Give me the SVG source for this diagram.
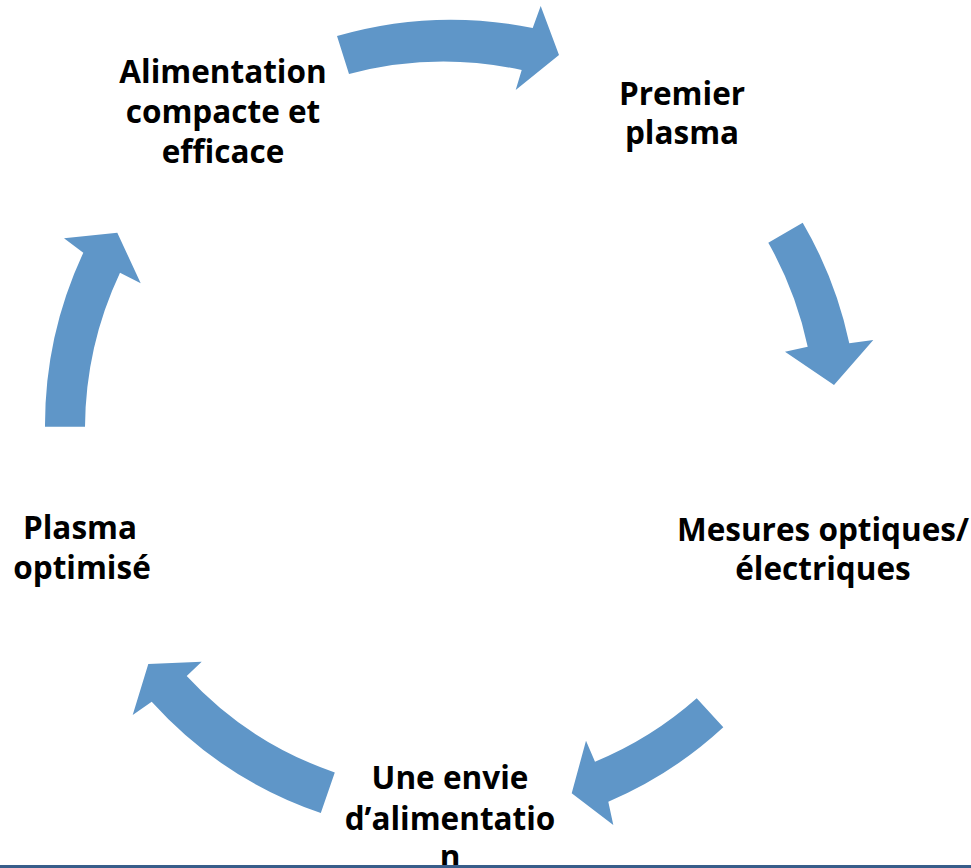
<svg xmlns="http://www.w3.org/2000/svg" width="971" height="868" viewBox="0 0 971 868">
<style>
.lbl{font-family:"Open Sans","Noto Sans","Liberation Sans",sans-serif;font-weight:bold;font-size:31.5px;fill:#000;text-anchor:middle}
.arr{fill:#5f96c8;stroke:none}
</style>
<rect x="0" y="0" width="971" height="868" fill="#ffffff"/>
<g id="connectors">
<path class="arr" d="M337,36 A412,412 0 0 1 532.7,28 L540.7,6 L559,55 L515.7,90 L521.7,70 A370,370 0 0 0 349,74 Z"/>
<path class="arr" d="M802.7,222.7 A408,408 0 0 1 849.3,343.3 L873.3,340 L834,385 L785,351.7 L807.7,346.7 A367,367 0 0 0 768.3,242.7 Z"/>
<path class="arr" d="M723.3,727.3 A401,401 0 0 1 608.3,801.7 L613.3,825 L571.7,793.3 L586,740.7 L595,761.7 A360,360 0 0 0 696.7,698.3 Z"/>
<path class="arr" d="M320.8,813 A403,403 0 0 1 151.7,701.7 L132.7,715 L148.3,664 L201.7,661.7 L186.7,676 A360,360 0 0 0 334.8,772.4 Z"/>
<path class="arr" d="M45,426.7 A408,408 0 0 1 83.3,252.7 L64,238.3 L117.3,232.7 L140.7,283.3 L120,272.7 A368,368 0 0 0 85,426.7 Z"/>
</g>
<g id="node1">
<text class="lbl" x="223" y="83">Alimentation</text>
<text class="lbl" x="223" y="123">compacte et</text>
<text class="lbl" x="223" y="163">efficace</text>
</g>
<g id="node2">
<text class="lbl" x="682" y="105">Premier</text>
<text class="lbl" x="682" y="144">plasma</text>
</g>
<g id="node3">
<text class="lbl" x="823" y="541">Mesures optiques/</text>
<text class="lbl" x="823" y="580">électriques</text>
</g>
<g id="node4">
<text class="lbl" x="450" y="789">Une envie</text>
<text class="lbl" x="450" y="830">d’alimentatio</text>
<text class="lbl" x="450" y="868">n</text>
</g>
<g id="node5">
<text class="lbl" x="80" y="539">Plasma</text>
<text class="lbl" x="82" y="579">optimisé</text>
</g>
<rect x="0" y="865" width="971" height="3" fill="#385d8a"/>
</svg>
